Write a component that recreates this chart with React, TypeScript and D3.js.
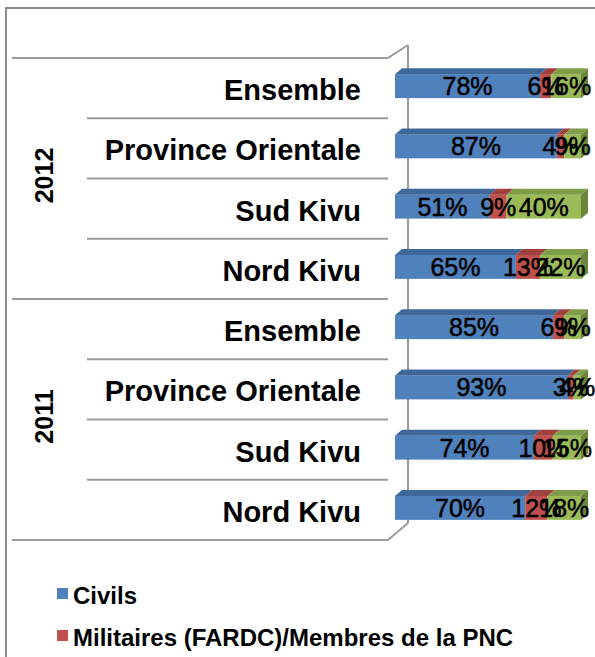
import * as d3 from 'd3'

// categories (top to bottom)
const years = ['2012', '2011']
const regions = ['Ensemble', 'Province Orientale', 'Sud Kivu', 'Nord Kivu']

// series values, same order as rows: 2012 x regions, then 2011 x regions
const civils = [78, 87, 51, 65, 85, 93, 74, 70]
const militaires = [6, 4, 9, 13, 6, 3, 10, 12]
const autres = [16, 9, 40, 22, 9, 4, 15, 18]

const seriesNames = ['Civils', 'Militaires (FARDC)/Membres de la PNC', 'Autres']
const front = ['#4F81BD', '#C0504D', '#9BBB59']
const topFace = ['#3E6899', '#A0413E', '#7F9D48']
const sideFace = ['#345884', '#86332F', '#6B8639']

const font = '"Liberation Sans", Arial, sans-serif'

export default function App() {
  const W = 595
  const H = 657

  const rows = years.flatMap((yr, yi) =>
    regions.map((r, ri) => {
      const i = yi * regions.length + ri
      return { key: yr + '|' + r, year: yr, region: r, s0: civils[i], s1: militaires[i], s2: autres[i] }
    })
  )

  const stack = d3.stack<any>().keys(['s0', 's1', 's2']).offset(d3.stackOffsetExpand)
  const layers = stack(rows)

  const y = d3.scaleBand().domain(rows.map(d => d.key)).range([58, 540])
  const x = d3.scaleLinear().domain([0, 1]).range([395, 581])

  // 3d depth of the bars and of the wall
  const bdx = 7
  const bdy = 6
  const wallLeft = 388
  const wallBack = 408

  const barH = 24
  const barTop = (k: string) => y(k)! + y.bandwidth() / 2 - 14

  const groupSize = regions.length

  return (
    <svg width={W} height={H} style={{ position: 'absolute', left: 0, top: 0, background: '#fff' }}>
      {/* outer frame */}
      <path d="M6,657 V8 H595" fill="none" stroke="#8c8c8c" strokeWidth={2} />

      {/* walls */}
      <g stroke="#9a9a9a" strokeWidth={2} fill="none">
        <line x1={wallBack} y1={45} x2={wallBack} y2={523} />
        <line x1={wallLeft} y1={58} x2={wallBack} y2={45} />
        <line x1={wallLeft} y1={540} x2={wallBack} y2={523} />
        {rows.map((d, i) => (
          <line key={'sep' + i} x1={i % groupSize === 0 ? 12 : 87} x2={wallLeft} y1={y(d.key)!} y2={y(d.key)!} />
        ))}
        <line x1={12} x2={wallLeft} y1={540} y2={540} />
      </g>

      {/* category labels */}
      {rows.map(d => (
        <text key={'lab' + d.key} x={361} y={y(d.key)! + y.bandwidth() / 2 + 12} textAnchor="end"
          fontFamily={font} fontWeight="bold" fontSize={29} fill="#000">{d.region}</text>
      ))}
      {years.map((yr, yi) => {
        const cy = (y(rows[yi * groupSize].key)! + y(rows[yi * groupSize + groupSize - 1].key)! + y.bandwidth()) / 2 - 3
        return (
          <text key={'yr' + yr} transform={`translate(53,${cy}) rotate(-90)`} textAnchor="middle"
            fontFamily={font} fontWeight="bold" fontSize={25} fill="#000">{yr}</text>
        )
      })}

      {/* bars */}
      {layers.map((layer, li) => (
        <g key={'layer' + li}>
          {layer.map((seg, si) => {
            const k = rows[si].key
            const t = barTop(k)
            const x0 = x(seg[0])
            const x1 = x(seg[1])
            const isLast = li === layers.length - 1
            return (
              <g key={k}>
                <rect x={x0} y={t} width={x1 - x0} height={barH} fill={front[li]} />
                <path d={`M${x0},${t} L${x0 + bdx},${t - bdy} L${x1 + bdx},${t - bdy} L${x1},${t} Z`} fill={topFace[li]} />
                {isLast && (
                  <path d={`M${x1},${t} L${x1 + bdx},${t - bdy} L${x1 + bdx},${t + barH - bdy} L${x1},${t + barH} Z`} fill={sideFace[li]} />
                )}
              </g>
            )
          })}
        </g>
      ))}

      {/* data labels */}
      {layers.map((layer, li) => (
        <g key={'dl' + li}>
          {layer.map((seg, si) => {
            const k = rows[si].key
            const v = (rows[si] as any)['s' + li]
            return (
              <text key={k} x={(x(seg[0]) + x(seg[1])) / 2} y={barTop(k) + barH / 2 + 9} textAnchor="middle"
                fontFamily={font} fontSize={25} fill="#000" stroke="#000" strokeWidth={0.5}>{v + '%'}</text>
            )
          })}
        </g>
      ))}

      {/* legend */}
      {seriesNames.slice(0, 2).map((n, i) => (
        <g key={'lg' + i} transform={`translate(57,${604 + i * 42})`}>
          <rect x={0} y={-16} width={11} height={11} fill={front[i]} />
          <text x={16} y={0} fontFamily={font} fontWeight="bold" fontSize={24} fill="#000">{n}</text>
        </g>
      ))}
    </svg>
  )
}
